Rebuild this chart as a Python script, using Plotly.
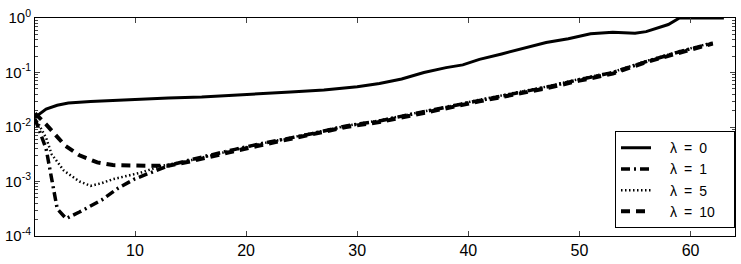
import plotly.graph_objects as go

# lambda = 0 (solid)
x0 = [1, 2, 3, 4, 6, 8, 10, 13, 16, 18, 21, 24, 27, 30, 32, 34, 36, 38, 39.5, 41,
      43, 45, 47, 49, 51, 53, 55, 56, 57, 58, 59, 63]
y0 = [0.0151, 0.0214, 0.0251, 0.0275, 0.0295, 0.0309, 0.0316, 0.0339, 0.0355, 0.0372,
      0.0398, 0.0437, 0.0479, 0.0550, 0.0631, 0.0759, 0.100, 0.123, 0.138, 0.174,
      0.219, 0.282, 0.355, 0.417, 0.513, 0.550, 0.525, 0.562, 0.646, 0.759, 1.0, 1.0]

# lambda = 1 (dash-dot)
x1 = [1, 2, 2.5, 3, 3.8, 5, 7, 8.5, 10, 11, 13, 15, 17, 19, 21, 23, 26, 29, 32, 35,
      38, 41, 44, 47, 50, 53, 56, 59, 62]
y1 = [0.0141, 0.00398, 0.00112, 0.000316, 0.000209, 0.000275, 0.000457, 0.000759,
      0.00112, 0.00135, 0.00195, 0.00251, 0.00316, 0.00389, 0.00479, 0.00575, 0.00759,
      0.0105, 0.0129, 0.0174, 0.0229, 0.0309, 0.0407, 0.0537, 0.0741, 0.100, 0.158,
      0.240, 0.347]

# lambda = 5 (dotted)
x5 = [1, 2, 2.5, 3.6, 5, 6, 7, 8, 10.5, 12.3, 15, 17, 19, 21, 23, 26, 29, 32, 35,
      38, 41, 44, 47, 50, 53, 56, 59, 62]
y5 = [0.0151, 0.00631, 0.00316, 0.00158, 0.00100, 0.000832, 0.000933, 0.00110,
      0.00145, 0.00191, 0.00245, 0.00309, 0.00380, 0.00479, 0.00575, 0.00776, 0.0105,
      0.0132, 0.0174, 0.0234, 0.0316, 0.0417, 0.0550, 0.0759, 0.102, 0.162, 0.245,
      0.355]

# lambda = 10 (dashed)
x10 = [1, 2, 3.7, 5, 6.6, 8, 11, 13, 15, 17, 19, 21, 23, 26, 29, 32, 35, 38, 41,
       44, 47, 50, 53, 56, 59, 62]
y10 = [0.0178, 0.0112, 0.00457, 0.00302, 0.00224, 0.00200, 0.00195, 0.00195,
       0.00234, 0.00295, 0.00363, 0.00447, 0.00550, 0.00724, 0.0100, 0.0123, 0.0166,
       0.0219, 0.0295, 0.0389, 0.0513, 0.0708, 0.0955, 0.155, 0.234, 0.339]

# legend names (en spaces keep the wide spacing of the original legend)
names = ["\u2002\u2002λ\u2002=\u20020", "\u2002\u2002λ\u2002=\u20021",
         "\u2002\u2002λ\u2002=\u20025", "\u2002\u2002λ\u2002=\u200210\u2002\u2002"]

xtick_vals = [10, 20, 30, 40, 50, 60]
ytick_vals = [1e-4, 1e-3, 1e-2, 1e-1, 1]
ytick_text = ["10<sup>-4</sup>", "10<sup>-3</sup>", "10<sup>-2</sup>",
              "10<sup>-1</sup>", "10<sup>0</sup>"]

fig = go.Figure()
fig.add_trace(go.Scatter(x=x0, y=y0, mode="lines", name=names[0],
                         line=dict(color="black", width=3)))
fig.add_trace(go.Scatter(x=x1, y=y1, mode="lines", name=names[1],
                         line=dict(color="black", width=3.5, dash="9px,4px,2px,4px")))
fig.add_trace(go.Scatter(x=x5, y=y5, mode="lines", name=names[2],
                         line=dict(color="black", width=2.5, dash="1.5px,2.5px")))
fig.add_trace(go.Scatter(x=x10, y=y10, mode="lines", name=names[3],
                         line=dict(color="black", width=4, dash="9px,6px")))

fig.update_layout(
    width=741, height=264,
    margin=dict(l=34, r=5, t=18, b=24),
    paper_bgcolor="white", plot_bgcolor="white",
    font=dict(family="Liberation Sans", size=15, color="black"),
    showlegend=True,
    legend=dict(x=1.0, y=0.036, xanchor="right", yanchor="bottom",
                bgcolor="white", bordercolor="black", borderwidth=1,
                itemwidth=30, font=dict(size=14), tracegroupgap=0),
)
fig.update_xaxes(range=[1, 64], tickvals=xtick_vals, ticks="inside", ticklen=5,
                 tickfont=dict(size=16),
                 showline=True, linecolor="black", linewidth=1, mirror="ticks",
                 showgrid=False, zeroline=False)
fig.update_yaxes(type="log", range=[-4, 0], tickvals=ytick_vals, ticktext=ytick_text,
                 ticks="inside", ticklen=5, showline=True, linecolor="black",
                 linewidth=1, mirror="allticks", showgrid=False, zeroline=False,
                 minor=dict(ticks="inside", ticklen=3, dtick="D1", showgrid=False))

# body margin 0 so the 741x264 figure sits at the window corner
fig.write_html("out.html", config={"displayModeBar": False},
               post_script="document.body.style.margin='0';")
